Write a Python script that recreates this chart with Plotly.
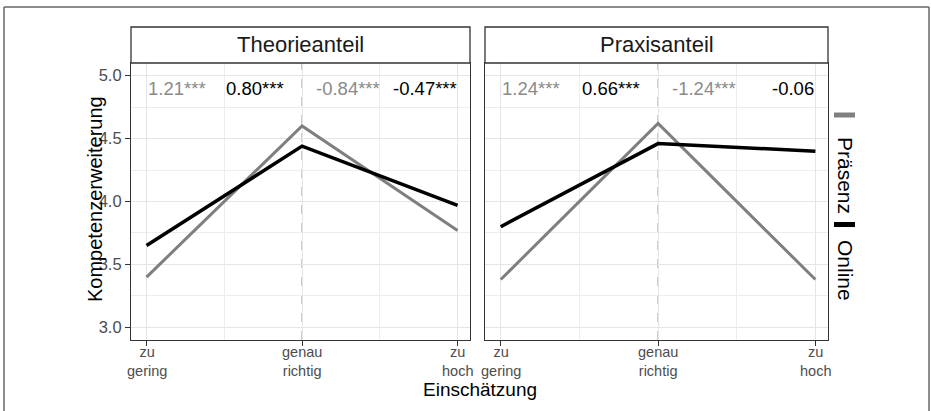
import plotly.graph_objects as go

W, H = 931, 411

# ---- data ----
categories = ["zu<br>gering", "genau<br>richtig", "zu<br>hoch"]
cat_pos = [1, 2, 3]
panels = ["Theorieanteil", "Praxisanteil"]
series = ["Präsenz", "Online"]

theorie_praesenz = [3.40, 4.60, 3.77]
theorie_online = [3.65, 4.44, 3.97]
praxis_praesenz = [3.38, 4.62, 3.38]
praxis_online = [3.80, 4.46, 4.40]

theorie_labels = ["1.21***", "0.80***", "-0.84***", "-0.47***"]
praxis_labels = ["1.24***", "0.66***", "-1.24***", "-0.06"]
label_series = [0, 1, 0, 1]  # index into series

y_ticks = [3.0, 3.5, 4.0, 4.5, 5.0]

# ---- styles / positions ----
colors = {"Präsenz": "#7f7f7f", "Online": "#000000"}
text_colors = {"Präsenz": "#8a8a8a", "Online": "#000000"}
widths = {"Präsenz": 3, "Online": 3.5}
label_x = [1.0, 1.89, 2.08, 3.0]
label_anchor = ["left", "right", "left", "right"]
label_y = 4.895
FONT = "Liberation Sans, Arial, sans-serif"
TICKCOL = "#4d4d4d"

def px_x(p):
    return p / W

def px_y(p):
    return 1 - p / H

panel_px = [(131, 470), (485, 828)]
top_px, bot_px = 63, 340
strip_top = 27
tick_center_px = 361

fig = go.Figure()

data = [
    (theorie_praesenz, theorie_online, theorie_labels),
    (praxis_praesenz, praxis_online, praxis_labels),
]

for i, (pr, on, labels) in enumerate(data):
    xa = "x" if i == 0 else "x2"
    ya = "y" if i == 0 else "y2"
    for name, vals in zip(series, [pr, on]):
        fig.add_trace(go.Scatter(
            x=cat_pos, y=vals, mode="lines", name=name,
            line=dict(color=colors[name], width=widths[name]),
            xaxis=xa, yaxis=ya, showlegend=False, hoverinfo="skip"))
    # dashed reference line at middle category
    fig.add_shape(type="line", xref=xa, yref=f"{ya} domain",
                  x0=cat_pos[1], x1=cat_pos[1], y0=0, y1=1,
                  line=dict(color="#8c8c8c", width=1, dash="dash"),
                  layer="below")
    for txt, s, lx, anc in zip(labels, label_series, label_x, label_anchor):
        fig.add_annotation(x=lx, y=label_y, xref=xa, yref=ya, text=txt,
                           showarrow=False, xanchor=anc, yanchor="middle",
                           borderpad=0,
                           font=dict(family=FONT, size=18.5,
                                     color=text_colors[series[s]]))
    # category tick labels
    for cx, cat in zip(cat_pos, categories):
        fig.add_annotation(x=cx, y=px_y(tick_center_px), xref=xa, yref="paper",
                           text=cat, showarrow=False, align="center",
                           xanchor="center", yanchor="middle", borderpad=0,
                           font=dict(family=FONT, size=14.5, color=TICKCOL))
    # strip
    x0, x1 = panel_px[i]
    fig.add_shape(type="rect", xref="paper", yref="paper",
                  x0=px_x(x0), x1=px_x(x1), y0=px_y(top_px), y1=px_y(strip_top),
                  line=dict(color="#333333", width=1.3), fillcolor="white")
    fig.add_annotation(x=(px_x(x0) + px_x(x1)) / 2,
                       y=(px_y(top_px) + px_y(strip_top)) / 2,
                       xref="paper", yref="paper", text=panels[i],
                       showarrow=False, xanchor="center", yanchor="middle",
                       font=dict(family=FONT, size=22, color="#1a1a1a"))

axis_common = dict(
    showline=True, mirror=True, linecolor="#333333", linewidth=1.2,
    showgrid=True, gridcolor="#e5e5e5", gridwidth=1.1,
    zeroline=False, ticks="outside", ticklen=5, tickwidth=1.2,
    tickcolor="#333333", tickfont=dict(family=FONT, size=16.5, color=TICKCOL),
)

for i in range(2):
    x0, x1 = panel_px[i]
    xkey = "xaxis" if i == 0 else "xaxis2"
    ykey = "yaxis" if i == 0 else "yaxis2"
    fig.layout[xkey] = dict(
        axis_common, domain=[px_x(x0), px_x(x1)], range=[0.9, 3.08],
        tickmode="array", tickvals=cat_pos, showticklabels=False,
        anchor="y" if i == 0 else "y2",
        minor=dict(tickmode="array", tickvals=[1.5, 2.5], showgrid=True,
                   gridcolor="#ededed", gridwidth=0.7, ticks=""),
    )
    fig.layout[ykey] = dict(
        axis_common, domain=[px_y(bot_px), px_y(top_px)], range=[2.9, 5.1],
        tickmode="array", tickvals=y_ticks, tickformat=".1f",
        anchor="x" if i == 0 else "x2",
        showticklabels=(i == 0),
        ticks="outside" if i == 0 else "",
        minor=dict(tickmode="array", tickvals=[3.25, 3.75, 4.25, 4.75],
                   showgrid=True, gridcolor="#ededed", gridwidth=0.7, ticks=""),
    )

# axis titles
fig.add_annotation(x=px_x(480), y=px_y(401), xref="paper", yref="paper",
                   text="Einschätzung", showarrow=False, borderpad=0,
                   font=dict(family=FONT, size=19, color="#000000"))
fig.add_annotation(x=px_x(82), y=px_y(199), xref="paper", yref="paper",
                   text="Kompetenzerweiterung", showarrow=False, textangle=-90,
                   font=dict(family=FONT, size=20, color="#000000"))

# legend (rotated, built manually)
legend_items = [(series[0], 115, 175), (series[1], 224.5, 270)]
for name, key_y, txt_y in legend_items:
    fig.add_shape(type="line", xref="paper", yref="paper",
                  x0=px_x(834), x1=px_x(855), y0=px_y(key_y), y1=px_y(key_y),
                  line=dict(color=colors[name], width=5))
    fig.add_annotation(x=px_x(846), y=px_y(txt_y), xref="paper", yref="paper",
                       text=name, showarrow=False, textangle=90,
                       xanchor="center", yanchor="middle",
                       font=dict(family=FONT, size=21, color="#000000"))

# outer frame (top, left, right)
for (ax0, ay0, ax1, ay1) in [(4, 7, 929, 7), (4, 7, 4, 411), (929, 7, 929, 411)]:
    fig.add_shape(type="line", xref="paper", yref="paper",
                  x0=px_x(ax0), y0=px_y(ay0), x1=px_x(ax1), y1=px_y(ay1),
                  line=dict(color="#666666", width=1.5))

fig.update_layout(
    width=W, height=H, margin=dict(l=0, r=0, t=0, b=0),
    paper_bgcolor="white", plot_bgcolor="white", showlegend=False,
)

fig.write_html(
    "out.html",
    config={"displayModeBar": False},
    post_script="document.body.style.margin='0px';"
                "document.body.style.overflow='hidden';",
)
